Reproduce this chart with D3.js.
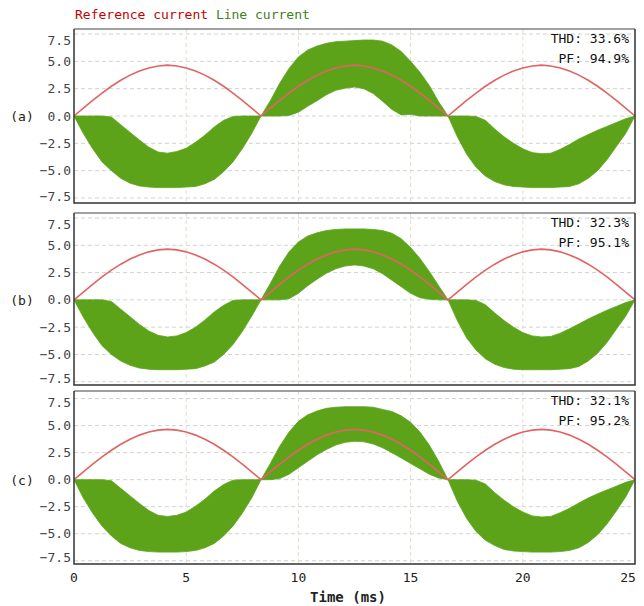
<!DOCTYPE html>
<html>
<head>
<meta charset="utf-8">
<script src="https://cdn.jsdelivr.net/npm/d3@7/dist/d3.min.js"></script>
<style>
  body { margin: 0; background: #fff; }
  svg text { font-family: "DejaVu Sans Mono", monospace; }
</style>
</head>
<body>
<div id="chart-area"></div>
<script>
// time grid (ms), 1/20 of a half cycle
const times = [0, 0.417, 0.833, 1.25, 1.667, 2.083, 2.5, 2.917, 3.333, 3.75, 4.167, 4.583, 5, 5.417, 5.833, 6.25, 6.667, 7.083, 7.5, 7.917,
  8.333, 8.75, 9.167, 9.583, 10, 10.417, 10.833, 11.25, 11.667, 12.083, 12.5, 12.917, 13.333, 13.75, 14.167, 14.583, 15, 15.417, 15.833, 16.25,
  16.667, 17.083, 17.5, 17.917, 18.333, 18.75, 19.167, 19.583, 20, 20.417, 20.833, 21.25, 21.667, 22.083, 22.5, 22.917, 23.333, 23.75, 24.167, 24.583,
  25];

// reference current (A)
const refCurrent = [0, 0.72, 1.43, 2.1, 2.72, 3.27, 3.74, 4.12, 4.4, 4.58, 4.65, 4.58, 4.4, 4.12, 3.74, 3.27, 2.72, 2.1, 1.43, 0.72,
  0, 0.72, 1.43, 2.1, 2.72, 3.27, 3.74, 4.12, 4.4, 4.58, 4.65, 4.58, 4.4, 4.12, 3.74, 3.27, 2.72, 2.1, 1.43, 0.72,
  0, 0.72, 1.43, 2.1, 2.72, 3.27, 3.74, 4.12, 4.4, 4.58, 4.65, 4.58, 4.4, 4.12, 3.74, 3.27, 2.72, 2.1, 1.43, 0.72,
  0];

// line current ripple band: upper / lower envelope for each case
const lineHiA = [0, 0, 0, 0, -0.1, -0.8, -1.5, -2.2, -2.85, -3.3, -3.4, -3.25, -2.95, -2.4, -1.75, -1.0, -0.4, -0.05, 0, 0,
  0, 1.4, 3.0, 4.35, 5.4, 6.05, 6.4, 6.65, 6.8, 6.85, 6.9, 6.95, 6.95, 6.85, 6.5, 5.9, 5.0, 4.0, 2.8, 1.3,
  0, 0, 0, -0.05, -0.4, -1.2, -1.9, -2.5, -3.0, -3.35, -3.45, -3.4, -3.05, -2.6, -2.1, -1.7, -1.3, -0.95, -0.6, -0.25,
  0];
const lineLoA = [0, -1.6, -3.0, -4.2, -5.0, -5.7, -6.15, -6.4, -6.5, -6.55, -6.55, -6.55, -6.5, -6.45, -6.2, -5.8, -5.1, -4.2, -3.0, -1.6,
  0, 0, 0, 0.05, 0.35, 0.9, 1.4, 1.95, 2.35, 2.55, 2.65, 2.5, 2.05, 1.35, 0.6, 0.1, 0.15, 0, 0, 0,
  0, -1.9, -3.5, -4.7, -5.5, -6.0, -6.3, -6.45, -6.5, -6.55, -6.55, -6.55, -6.5, -6.45, -6.2, -5.7, -5.0, -4.0, -2.8, -1.6,
  0];

const lineHiB = [0, 0, 0, 0, -0.15, -0.85, -1.55, -2.25, -2.85, -3.25, -3.4, -3.3, -3.0, -2.5, -1.85, -1.1, -0.5, -0.05, 0, 0,
  0, 1.5, 3.1, 4.4, 5.3, 5.85, 6.15, 6.35, 6.45, 6.5, 6.5, 6.5, 6.45, 6.35, 6.1, 5.6, 4.8, 3.8, 2.6, 1.3,
  0, 0, 0, -0.05, -0.45, -1.2, -1.9, -2.5, -3.0, -3.3, -3.4, -3.35, -3.05, -2.65, -2.2, -1.75, -1.35, -0.95, -0.6, -0.25,
  0];
const lineLoB = [0, -1.6, -3.0, -4.2, -5.0, -5.6, -6.0, -6.25, -6.35, -6.4, -6.4, -6.4, -6.35, -6.3, -6.05, -5.7, -5.0, -4.1, -2.9, -1.5,
  0, 0, 0, 0.1, 0.6, 1.3, 1.9, 2.45, 2.85, 3.1, 3.2, 3.1, 2.85, 2.4, 1.8, 1.2, 0.6, 0.2, 0.05, 0,
  0, -1.9, -3.5, -4.6, -5.4, -5.9, -6.2, -6.35, -6.4, -6.4, -6.4, -6.4, -6.35, -6.3, -6.1, -5.6, -4.9, -3.9, -2.7, -1.5,
  0];

const lineHiC = [0, 0, 0, 0, -0.1, -0.8, -1.5, -2.2, -2.85, -3.3, -3.4, -3.3, -3.0, -2.45, -1.8, -1.05, -0.45, -0.05, 0, 0,
  0, 1.5, 3.1, 4.4, 5.4, 6.0, 6.35, 6.6, 6.7, 6.75, 6.75, 6.75, 6.7, 6.5, 6.3, 5.9, 5.3, 4.4, 3.2, 1.7,
  0, 0, 0, -0.05, -0.4, -1.2, -1.9, -2.5, -3.0, -3.35, -3.45, -3.4, -3.05, -2.65, -2.15, -1.7, -1.3, -0.95, -0.6, -0.25,
  0];
const lineLoC = [0, -1.7, -3.1, -4.3, -5.2, -5.9, -6.3, -6.55, -6.65, -6.7, -6.7, -6.7, -6.65, -6.55, -6.3, -5.9, -5.2, -4.3, -3.1, -1.7,
  0, 0, 0.1, 0.5, 1.1, 1.7, 2.3, 2.8, 3.2, 3.45, 3.55, 3.5, 3.3, 2.95, 2.5, 2.0, 1.5, 1.0, 0.5, 0.15,
  0, -2.0, -3.6, -4.8, -5.6, -6.1, -6.45, -6.6, -6.65, -6.7, -6.7, -6.7, -6.65, -6.55, -6.3, -5.8, -5.1, -4.1, -2.9, -1.6,
  0];

const panelNames = ['(a)', '(b)', '(c)'];
const thdValues = ['33.6%', '32.3%', '32.1%'];
const pfValues = ['94.9%', '95.1%', '95.2%'];
const yTicks = [7.5, 5, 2.5, 0, -2.5, -5, -7.5];
const xTicks = [0, 5, 10, 15, 20, 25];

const panels = [
  { name: panelNames[0], hi: lineHiA, lo: lineLoA, thd: thdValues[0], pf: pfValues[0], top: 29, bottom: 203, dom: [-7.96, 7.96] },
  { name: panelNames[1], hi: lineHiB, lo: lineLoB, thd: thdValues[1], pf: pfValues[1], top: 213, bottom: 385, dom: [-7.8, 7.96] },
  { name: panelNames[2], hi: lineHiC, lo: lineLoC, thd: thdValues[2], pf: pfValues[2], top: 391, bottom: 564, dom: [-7.8, 8.2] }
];

const width = 644, height = 606;
const left = 74, right = 635;

const svg = d3.select('#chart-area')
  .append('svg')
  .attr('width', width)
  .attr('height', height);

const x = d3.scaleLinear().domain([0, 25]).range([left, right]);

// legend
const legend = svg.append('text').attr('x', 75).attr('y', 19).attr('font-size', 13);
legend.append('tspan').attr('fill', '#c40000').text('Reference current ');
legend.append('tspan').attr('fill', '#3f7f1c').text('Line current');

panels.forEach((p, pi) => {
  const y = d3.scaleLinear().domain(p.dom).range([p.bottom, p.top]);
  const g = svg.append('g');

  g.append('clipPath').attr('id', 'clip' + pi)
    .append('rect')
    .attr('x', left).attr('y', p.top)
    .attr('width', right - left).attr('height', p.bottom - p.top);

  // grid
  g.selectAll('.hgrid')
    .data(yTicks)
    .enter()
    .append('line')
    .attr('x1', left).attr('x2', right)
    .attr('y1', (d) => y(d)).attr('y2', (d) => y(d))
    .attr('stroke', '#d2d2d2')
    .attr('stroke-dasharray', '4,3');

  g.selectAll('.vgrid')
    .data(xTicks.slice(1, -1))
    .enter()
    .append('line')
    .attr('x1', (d) => x(d)).attr('x2', (d) => x(d))
    .attr('y1', p.top).attr('y2', p.bottom)
    .attr('stroke', '#e3dec6')
    .attr('stroke-dasharray', '4,3');

  const plot = g.append('g').attr('clip-path', 'url(#clip' + pi + ')');

  const area = d3.area()
    .x((d, i) => x(times[i]))
    .y0((d, i) => y(p.lo[i]))
    .y1((d, i) => y(p.hi[i]));

  plot.append('path')
    .datum(times)
    .attr('d', area)
    .attr('fill', '#5ca31a')
    .attr('stroke', '#5ca31a')
    .attr('stroke-width', 0.8);

  const line = d3.line()
    .x((d, i) => x(times[i]))
    .y((d) => y(d));

  plot.append('path')
    .datum(refCurrent)
    .attr('d', line)
    .attr('fill', 'none')
    .attr('stroke', '#e06464')
    .attr('stroke-width', 1.6);

  // frame
  g.append('line').attr('x1', left).attr('x2', right).attr('y1', p.top).attr('y2', p.top)
    .attr('stroke', '#808080').attr('stroke-width', 1.5);
  g.append('path')
    .attr('d', 'M' + right + ',' + p.top + 'V' + p.bottom + 'H' + left + 'V' + p.top)
    .attr('fill', 'none')
    .attr('stroke', '#333')
    .attr('stroke-width', 1.5);

  // y tick labels
  g.selectAll('.ylab')
    .data(yTicks)
    .enter()
    .append('text')
    .attr('x', 71)
    .attr('y', (d) => Math.min(Math.max(y(d), p.top + 11), p.bottom - 7) + 4.5)
    .attr('text-anchor', 'end')
    .attr('font-size', 13)
    .attr('fill', '#444')
    .text((d) => d3.format('.1f')(d));

  g.append('text')
    .attr('x', 22).attr('y', y(0) + 5)
    .attr('text-anchor', 'middle')
    .attr('font-size', 13)
    .attr('fill', '#222')
    .text(p.name);

  g.append('text')
    .attr('x', 629).attr('y', p.top + 14)
    .attr('text-anchor', 'end')
    .attr('font-size', 13)
    .attr('fill', '#111')
    .text('THD: ' + p.thd);
  g.append('text')
    .attr('x', 629).attr('y', p.top + 34)
    .attr('text-anchor', 'end')
    .attr('font-size', 13)
    .attr('fill', '#111')
    .text('PF: ' + p.pf);
});

// x axis labels
svg.selectAll('.xlab')
  .data(xTicks)
  .enter()
  .append('text')
  .attr('x', (d) => d === 25 ? x(d) - 7 : x(d))
  .attr('y', 582)
  .attr('text-anchor', 'middle')
  .attr('font-size', 13)
  .attr('fill', '#222')
  .text((d) => d);

svg.append('text')
  .attr('x', 348).attr('y', 602)
  .attr('text-anchor', 'middle')
  .attr('font-size', 14)
  .attr('font-weight', 'bold')
  .attr('fill', '#222')
  .text('Time (ms)');
</script>
</body>
</html>
